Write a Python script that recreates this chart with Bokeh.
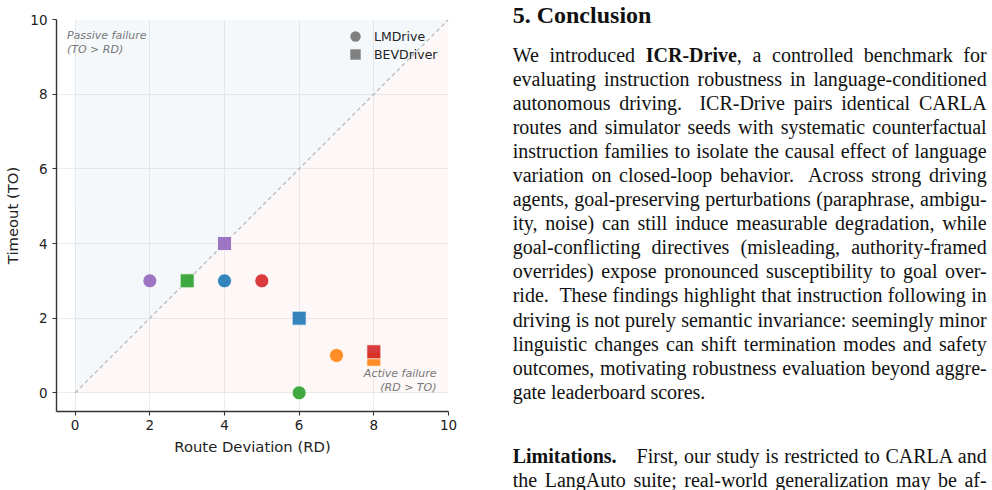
from bokeh.plotting import figure
from bokeh.models import Legend, LegendItem, Label, Div, ColumnDataSource
from bokeh.layouts import row
from bokeh.embed import file_html
from bokeh.resources import INLINE

# ---------------- data ----------------
TAB_BLUE = "#1f77b4"
TAB_ORANGE = "#ff7f0e"
TAB_GREEN = "#2ca02c"
TAB_RED = "#d62728"
TAB_PURPLE = "#9467bd"

lm_rd = [2, 4, 5, 7, 6]
lm_to = [3, 3, 3, 1, 0]
lm_colors = [TAB_PURPLE, TAB_BLUE, TAB_RED, TAB_ORANGE, TAB_GREEN]

bev_rd = [4, 3, 6, 8, 8]
bev_to = [4, 3, 2, 0.9, 1.1]
bev_colors = [TAB_PURPLE, TAB_GREEN, TAB_BLUE, TAB_ORANGE, TAB_RED]

axis_min, axis_max = 0, 10
ticks = [0, 2, 4, 6, 8, 10]

heading = "5. Conclusion"
para_lines = [
    "We introduced <b>ICR-Drive</b>, a controlled benchmark for",
    "evaluating instruction robustness in language-conditioned",
    "autonomous driving.&nbsp; ICR-Drive pairs identical CARLA",
    "routes and simulator seeds with systematic counterfactual",
    "instruction families to isolate the causal effect of language",
    "variation on closed-loop behavior.&nbsp; Across strong driving",
    "agents, goal-preserving perturbations (paraphrase, ambigu-",
    "ity, noise) can still induce measurable degradation, while",
    "goal-conflicting directives (misleading, authority-framed",
    "overrides) expose pronounced susceptibility to goal over-",
    "ride.&nbsp; These findings highlight that instruction following in",
    "driving is not purely semantic invariance: seemingly minor",
    "linguistic changes can shift termination modes and safety",
    "outcomes, motivating robustness evaluation beyond aggre-",
    "gate leaderboard scores.",
]
lim_lines = [
    "<b>Limitations.</b>&emsp;First, our study is restricted to CARLA and",
    "the LangAuto suite; real-world generalization may be af-",
]

# ---------------- chart ----------------
p = figure(width=460, height=490, x_range=(-0.5, 10), y_range=(-0.5, 10),
           output_backend="svg", toolbar_location=None,
           min_border_left=56, min_border_right=12, min_border_top=19, min_border_bottom=79)
p.outline_line_color = None
p.background_fill_color = "white"
p.border_fill_color = "white"

# shaded regions
p.patch([axis_min, axis_min, axis_max], [axis_min, axis_max, axis_max],
        fill_color=TAB_BLUE, fill_alpha=0.05, line_color=None)
p.patch([axis_min, axis_max, axis_max], [axis_min, axis_min, axis_max],
        fill_color=TAB_RED, fill_alpha=0.04, line_color=None)
# diagonal
p.line([axis_min, axis_max], [axis_min, axis_max], line_color="#aaaaaa",
       line_width=1.1, line_dash="4 3", line_alpha=0.9)

src_lm = ColumnDataSource(dict(x=lm_rd, y=lm_to, c=lm_colors))
src_bev = ColumnDataSource(dict(x=bev_rd, y=bev_to, c=bev_colors))
p.scatter("x", "y", source=src_bev, marker="square", size=14, fill_color="c",
          fill_alpha=0.9, line_color="white", line_width=0.8)
p.scatter("x", "y", source=src_lm, marker="circle", size=14, fill_color="c",
          fill_alpha=0.9, line_color="white", line_width=0.8)

# legend proxies (no visible data point)
nan = float("nan")
r_lm = p.scatter([nan], [nan], marker="circle", size=11, fill_color="#808080", line_color=None)
r_bev = p.scatter([nan], [nan], marker="square", size=11, fill_color="#808080", line_color=None)


def make_legend(label, rend, loc):
    return Legend(items=[LegendItem(label=label, renderers=[rend], index=0)],
                  location=loc, border_line_color=None, background_fill_alpha=0,
                  label_text_font="DejaVu Sans", label_text_font_size="12.5px",
                  label_text_color="#222222", glyph_width=26, glyph_height=26,
                  label_height=26, label_standoff=6, spacing=0, padding=0, margin=0)


p.add_layout(make_legend("LMDrive", r_lm, (286, 362)))
p.add_layout(make_legend("BEVDriver", r_bev, (286, 344)))

# annotations
p.add_layout(Label(x=-0.22, y=9.75, text="Passive failure\n(TO > RD)",
                   text_font="DejaVu Sans", text_font_style="italic",
                   text_font_size="11px", text_color="#777777",
                   text_baseline="top", text_align="left", text_line_height=1.1))
p.add_layout(Label(x=9.68, y=-0.03, text="Active failure\n(RD > TO)",
                   text_font="DejaVu Sans", text_font_style="italic",
                   text_font_size="11px", text_color="#777777",
                   text_baseline="bottom", text_align="right", text_line_height=1.05))

# grid & axes
for g in (p.xgrid, p.ygrid):
    g.grid_line_color = "#e8e8e8"
    g.grid_line_width = 0.8
p.xaxis.ticker = ticks
p.yaxis.ticker = ticks
for ax in (p.xaxis, p.yaxis):
    ax.axis_line_color = "#333333"
    ax.axis_line_width = 1.4
    ax.major_tick_line_color = "#333333"
    ax.major_tick_line_width = 1.1
    ax.major_tick_out = 4
    ax.major_tick_in = 0
    ax.minor_tick_line_color = None
    ax.major_label_text_font = "DejaVu Sans"
    ax.major_label_text_font_size = "13.5px"
    ax.major_label_text_color = "#222222"
    ax.axis_label_text_font = "DejaVu Sans"
    ax.axis_label_text_font_size = "14.8px"
    ax.axis_label_text_font_style = "normal"
    ax.axis_label_text_color = "#222222"
p.xaxis.axis_label = "Route Deviation (RD)"
p.yaxis.axis_label = "Timeout (TO)"
p.xaxis.major_label_standoff = 4
p.yaxis.major_label_standoff = 5
p.xaxis.axis_label_standoff = 5
p.yaxis.axis_label_standoff = 6

# ---------------- text column ----------------
LEFT = 52.7
WIDTH = 474
FS = 20
LH = 24
BASE_OFF = (LH - 1.107 * FS) / 2 + 0.891 * FS
first_base = 61.7
step = 24.05


def line_div(text, baseline, justify=True):
    align = "text-align:justify;text-align-last:justify;" if justify else "text-align:left;"
    top = baseline - BASE_OFF
    return (f'<div style="position:absolute;left:{LEFT}px;top:{top:.2f}px;width:{WIDTH}px;'
            f'height:{LH}px;line-height:{LH}px;font-size:{FS}px;white-space:nowrap;{align}">'
            f'{text}</div>')


parts = []
hfs = 24
hlh = 28
h_off = (hlh - 1.107 * hfs) / 2 + 0.891 * hfs
parts.append(f'<div style="position:absolute;left:{LEFT}px;top:{23.5 - h_off:.2f}px;'
             f'font-size:{hfs}px;line-height:{hlh}px;font-weight:bold;white-space:nowrap;">{heading}</div>')
for i, t in enumerate(para_lines):
    parts.append(line_div(t, first_base + i * step, justify=(i < len(para_lines) - 1)))
lim_base = 462.7
for i, t in enumerate(lim_lines):
    parts.append(line_div(t, lim_base + i * step, justify=True))

html = ('<div style="position:relative;width:532px;height:490px;overflow:hidden;'
        'font-family:\'Liberation Serif\',\'Times New Roman\',serif;color:#111111;background:white;">'
        + "".join(parts) + '</div>')
div = Div(text=html, width=532, height=490, margin=(0, 0, 0, 0))

layout = row(p, div, spacing=0)
open("out.html", "w").write(file_html(layout, INLINE))
